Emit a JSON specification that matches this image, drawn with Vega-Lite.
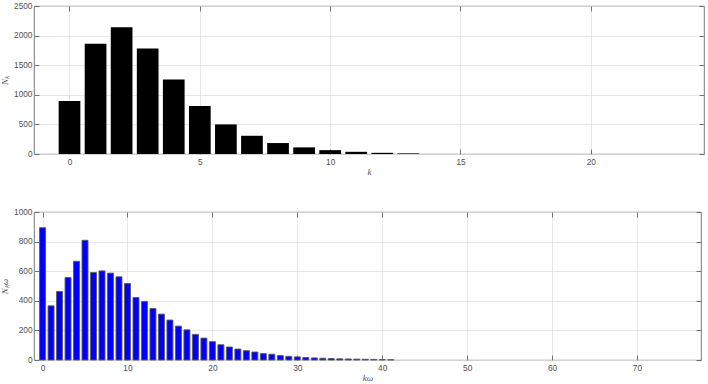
{
  "$schema": "https://vega.github.io/schema/vega-lite/v6.json",
  "padding": {"left": 0, "top": 0, "right": 2, "bottom": 0},
  "background": "white",
  "config": {
    "font": "Liberation Sans",
    "view": {"stroke": "#555555", "strokeWidth": 0.8},
    "axis": {
      "domain": false,
      "grid": true,
      "gridColor": "#e2e2e2",
      "gridWidth": 0.8,
      "tickSize": -5,
      "tickColor": "#555555",
      "tickWidth": 0.8,
      "format": "d",
      "labelFont": "Liberation Sans",
      "labelFontSize": 8.3,
      "labelColor": "#505050",
      "titleFont": "Liberation Serif",
      "titleFontStyle": "italic",
      "titleFontWeight": "normal",
      "titleFontSize": 9,
      "titleColor": "#505050"
    }
  },
  "datasets": {
    "topData": [
      {"k": 0, "count": 895}, {"k": 1, "count": 1862}, {"k": 2, "count": 2140},
      {"k": 3, "count": 1782}, {"k": 4, "count": 1258}, {"k": 5, "count": 812},
      {"k": 6, "count": 500}, {"k": 7, "count": 308}, {"k": 8, "count": 185},
      {"k": 9, "count": 112}, {"k": 10, "count": 65}, {"k": 11, "count": 37},
      {"k": 12, "count": 20}, {"k": 13, "count": 10}
    ],
    "bottomData": [
      {"kw": 0, "count": 894}, {"kw": 1, "count": 366}, {"kw": 2, "count": 463},
      {"kw": 3, "count": 557}, {"kw": 4, "count": 667}, {"kw": 5, "count": 809},
      {"kw": 6, "count": 591}, {"kw": 7, "count": 602}, {"kw": 8, "count": 587},
      {"kw": 9, "count": 562}, {"kw": 10, "count": 517}, {"kw": 11, "count": 422},
      {"kw": 12, "count": 396}, {"kw": 13, "count": 348}, {"kw": 14, "count": 310},
      {"kw": 15, "count": 270}, {"kw": 16, "count": 229}, {"kw": 17, "count": 204},
      {"kw": 18, "count": 173}, {"kw": 19, "count": 148}, {"kw": 20, "count": 124},
      {"kw": 21, "count": 103}, {"kw": 22, "count": 88}, {"kw": 23, "count": 74},
      {"kw": 24, "count": 63}, {"kw": 25, "count": 54}, {"kw": 26, "count": 43},
      {"kw": 27, "count": 39}, {"kw": 28, "count": 30}, {"kw": 29, "count": 25},
      {"kw": 30, "count": 21}, {"kw": 31, "count": 17}, {"kw": 32, "count": 14},
      {"kw": 33, "count": 12}, {"kw": 34, "count": 10}, {"kw": 35, "count": 8},
      {"kw": 36, "count": 7}, {"kw": 37, "count": 6}, {"kw": 38, "count": 5},
      {"kw": 39, "count": 4}, {"kw": 40, "count": 3}, {"kw": 41, "count": 2}
    ]
  },
  "vconcat": [
    {
      "width": 670,
      "height": 148,
      "data": {"name": "topData"},
      "resolve": {"axis": {"x": "independent", "y": "independent"}},
      "layer": [
        {
          "mark": {"type": "bar", "width": 21.7, "color": "#000000"},
          "encoding": {
            "x": {"field": "k", "type": "quantitative",
                  "scale": {"domain": [-1.17, 24.15], "nice": false, "zero": false},
                  "axis": {"values": [0, 5, 10, 15, 20], "title": "k", "labelPadding": 8, "titlePadding": 2}},
            "y": {"field": "count", "type": "quantitative",
                  "scale": {"domain": [0, 2500], "nice": false},
                  "axis": {"values": [0, 500, 1000, 1500, 2000, 2500], "title": "Nₖ", "labelPadding": 7, "titlePadding": 4}}
          }
        },
        {
          "mark": {"type": "bar", "width": 1, "opacity": 0},
          "encoding": {
            "x": {"field": "k", "type": "quantitative",
                  "axis": {"orient": "top", "values": [0, 5, 10, 15, 20], "labels": false, "grid": false, "title": null}},
            "y": {"field": "count", "type": "quantitative",
                  "axis": {"orient": "right", "values": [0, 500, 1000, 1500, 2000, 2500], "labels": false, "grid": false, "title": null}}
          }
        }
      ]
    },
    {
      "width": 667,
      "height": 148,
      "data": {"name": "bottomData"},
      "resolve": {"axis": {"x": "independent", "y": "independent"}},
      "layer": [
        {
          "mark": {"type": "bar", "width": 6, "color": "#0000ff", "stroke": "#5a5a5a", "strokeWidth": 0.9},
          "encoding": {
            "x": {"field": "kw", "type": "quantitative",
                  "scale": {"domain": [-0.42, 76.95], "nice": false, "zero": false},
                  "axis": {"values": [0, 10, 20, 30, 40, 50, 60, 70], "title": "kω", "labelPadding": 8, "titlePadding": 2}},
            "y": {"field": "count", "type": "quantitative",
                  "scale": {"domain": [0, 1000], "nice": false},
                  "axis": {"values": [0, 200, 400, 600, 800, 1000], "title": "Nₖω", "labelPadding": 7, "titlePadding": 4}}
          }
        },
        {
          "mark": {"type": "bar", "width": 1, "opacity": 0},
          "encoding": {
            "x": {"field": "kw", "type": "quantitative",
                  "axis": {"orient": "top", "values": [0, 10, 20, 30, 40, 50, 60, 70], "labels": false, "grid": false, "title": null}},
            "y": {"field": "count", "type": "quantitative",
                  "axis": {"orient": "right", "values": [0, 200, 400, 600, 800, 1000], "labels": false, "grid": false, "title": null}}
          }
        }
      ]
    }
  ],
  "spacing": 58,
  "bounds": "flush"
}
